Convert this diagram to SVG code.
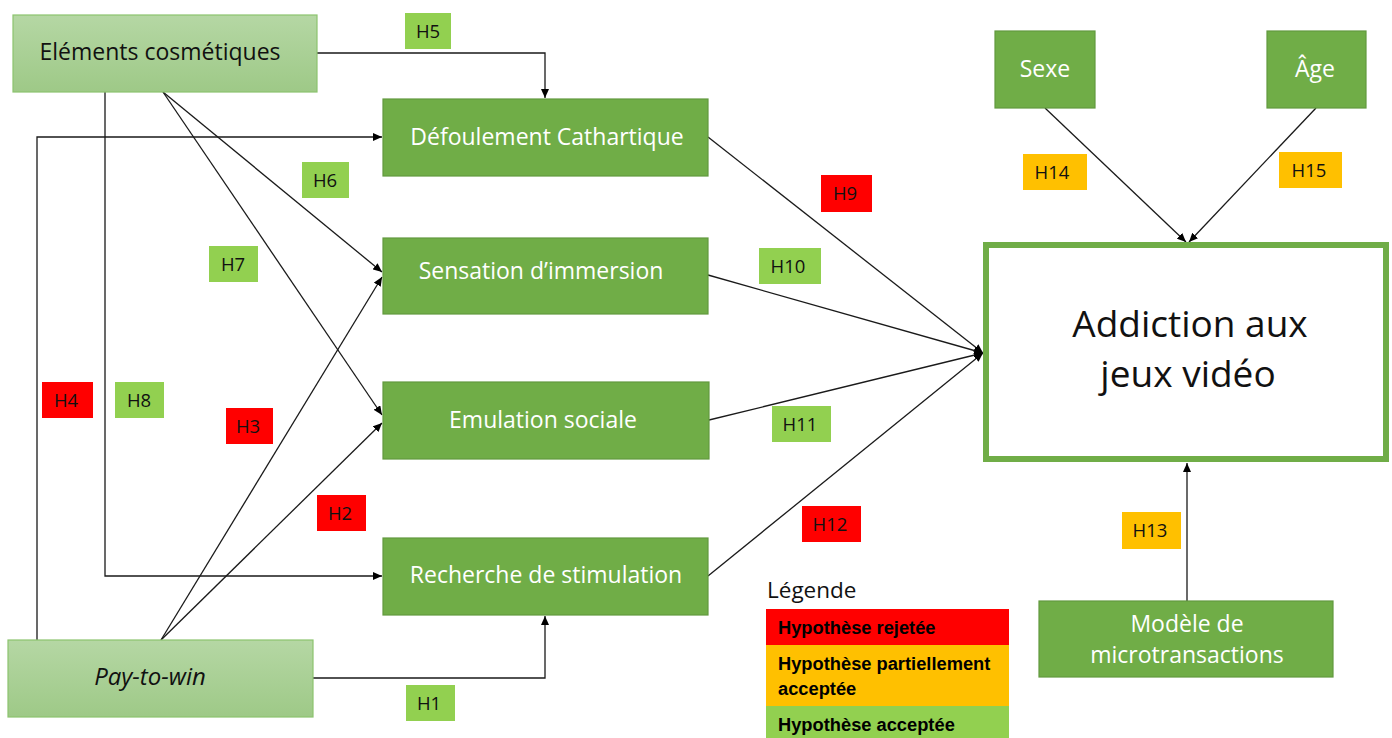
<svg xmlns="http://www.w3.org/2000/svg" width="1392" height="738" viewBox="0 0 1392 738">
<defs>
<linearGradient id="lg" x1="0" y1="0" x2="0" y2="1">
<stop offset="0" stop-color="#b5d7a4"/>
<stop offset="1" stop-color="#9ec987"/>
</linearGradient>
<marker id="ah" markerUnits="userSpaceOnUse" markerWidth="10" markerHeight="8" refX="9" refY="4" orient="auto">
<path d="M0,0 L9,4 L0,8 Z" fill="#000"/>
</marker>
<style>
.light{fill:url(#lg);stroke:#8cc46e;stroke-width:1.2}
.dark{fill:#70ad47;stroke:#62993f;stroke-width:1.2}
.wt{font-family:"Open Sans","Liberation Sans",sans-serif;font-size:23px;fill:#fff;text-anchor:middle}
.bt{font-family:"Open Sans","Liberation Sans",sans-serif;font-size:23px;fill:#111;text-anchor:middle}
.big{font-size:37px}
.c{fill:none;stroke:#1a1a1a;stroke-width:1.3}
.ca{fill:none;stroke:#1a1a1a;stroke-width:1.3;marker-end:url(#ah)}
.hg{fill:#92d050}
.hr{fill:#ff0000}
.ho{fill:#ffc000}
.ht{font-family:"Open Sans","Liberation Sans",sans-serif;font-size:18.5px;fill:#111;text-anchor:middle}
.lt{font-family:"Liberation Sans",Arial,sans-serif;font-size:18.3px;font-weight:bold;fill:#000}
</style>
</defs>
<rect width="1392" height="738" fill="#fff"/>

<g id="connectors">
<path class="ca" d="M317,53 H545 V98"/>
<path class="ca" d="M37,640 V137 H382"/>
<path class="ca" d="M105,92 V576 H382"/>
<path class="ca" d="M313,678 H545 V616"/>
<path class="ca" d="M163,92 L382,272"/>
<path class="ca" d="M163,92 L382,415"/>
<path class="ca" d="M161,640 L382,277"/>
<path class="ca" d="M161,640 L382,423"/>
<path class="ca" d="M708,137 L983,353"/>
<path class="ca" d="M708,275 L983,353"/>
<path class="ca" d="M709,420 L983,353"/>
<path class="ca" d="M708,576 L983,353"/>
<path class="ca" d="M1045,108 L1186,242"/>
<path class="ca" d="M1316,108 L1189,242"/>
<path class="ca" d="M1187,601 V463"/>
</g>

<g id="cosmetiques">
<rect class="light" x="13" y="15" width="304" height="77"/>
<text class="bt" x="160" y="60">Eléments cosmétiques</text>
</g>
<g id="paytowin">
<rect class="light" x="8" y="640" width="305" height="77"/>
<text class="bt" x="150" y="685" font-style="italic" style="font-size:24px">Pay-to-win</text>
</g>
<g id="defoulement">
<rect class="dark" x="383" y="99" width="325" height="77"/>
<text class="wt" x="547" y="145">Défoulement Cathartique</text>
</g>
<g id="sensation">
<rect class="dark" x="383" y="238" width="325" height="76"/>
<text class="wt" x="541" y="279">Sensation d’immersion</text>
</g>
<g id="emulation">
<rect class="dark" x="383" y="382" width="326" height="77"/>
<text class="wt" x="543" y="428">Emulation sociale</text>
</g>
<g id="recherche">
<rect class="dark" x="383" y="538" width="325" height="77"/>
<text class="wt" x="546" y="583">Recherche de stimulation</text>
</g>
<g id="sexe">
<rect class="dark" x="995" y="31" width="100" height="77"/>
<text class="wt" x="1045" y="77">Sexe</text>
</g>
<g id="age">
<rect class="dark" x="1267" y="31" width="99" height="77"/>
<text class="wt" x="1315" y="77">Âge</text>
</g>
<g id="addiction">
<rect x="986" y="245" width="400" height="214" fill="#fff" stroke="#70ad47" stroke-width="6"/>
<text class="bt big" x="1190" y="337">Addiction aux</text>
<text class="bt big" x="1188" y="387">jeux vidéo</text>
</g>
<g id="modele">
<rect class="dark" x="1039" y="601" width="294" height="76"/>
<text class="wt" x="1187" y="632">Modèle de</text>
<text class="wt" x="1187" y="663">microtransactions</text>
</g>

<g id="labels">
<g id="h5"><rect class="hg" x="405" y="13" width="46" height="36"/><text class="ht" x="428" y="38">H5</text></g>
<g id="h6"><rect class="hg" x="302" y="162" width="47" height="36"/><text class="ht" x="325" y="187">H6</text></g>
<g id="h7"><rect class="hg" x="209" y="246" width="49" height="36"/><text class="ht" x="233" y="271">H7</text></g>
<g id="h4"><rect class="hr" x="42" y="382" width="51" height="36"/><text class="ht" x="66" y="407">H4</text></g>
<g id="h8"><rect class="hg" x="115" y="382" width="49" height="36"/><text class="ht" x="139" y="407">H8</text></g>
<g id="h3"><rect class="hr" x="226" y="408" width="47" height="36"/><text class="ht" x="248" y="433">H3</text></g>
<g id="h2"><rect class="hr" x="317" y="495" width="49" height="36"/><text class="ht" x="340" y="520">H2</text></g>
<g id="h1"><rect class="hg" x="406" y="685" width="49" height="36"/><text class="ht" x="429" y="710">H1</text></g>
<g id="h9"><rect class="hr" x="821" y="175" width="51" height="37"/><text class="ht" x="845" y="200">H9</text></g>
<g id="h10"><rect class="hg" x="759" y="248" width="62" height="36"/><text class="ht" x="788" y="273">H10</text></g>
<g id="h11"><rect class="hg" x="772" y="406" width="59" height="36"/><text class="ht" x="800" y="431">H11</text></g>
<g id="h12"><rect class="hr" x="802" y="506" width="59" height="36"/><text class="ht" x="830" y="531">H12</text></g>
<g id="h14"><rect class="ho" x="1023" y="154" width="64" height="36"/><text class="ht" x="1052" y="179">H14</text></g>
<g id="h15"><rect class="ho" x="1279" y="152" width="63" height="36"/><text class="ht" x="1309" y="177">H15</text></g>
<g id="h13"><rect class="ho" x="1122" y="512" width="59" height="37"/><text class="ht" x="1150" y="537">H13</text></g>
</g>

<g id="legend">
<text x="767" y="598" font-family="Open Sans, Liberation Sans, sans-serif" font-size="22.5" fill="#111">Légende</text>
<rect x="766" y="609" width="243" height="36" fill="#ff0000"/>
<rect x="766" y="645" width="243" height="61" fill="#ffc000"/>
<rect x="766" y="706" width="243" height="32" fill="#92d050"/>
<text class="lt" x="778" y="634">Hypothèse rejetée</text>
<text class="lt" x="778" y="670">Hypothèse partiellement</text>
<text class="lt" x="778" y="695">acceptée</text>
<text class="lt" x="778" y="731">Hypothèse acceptée</text>
</g>
</svg>
